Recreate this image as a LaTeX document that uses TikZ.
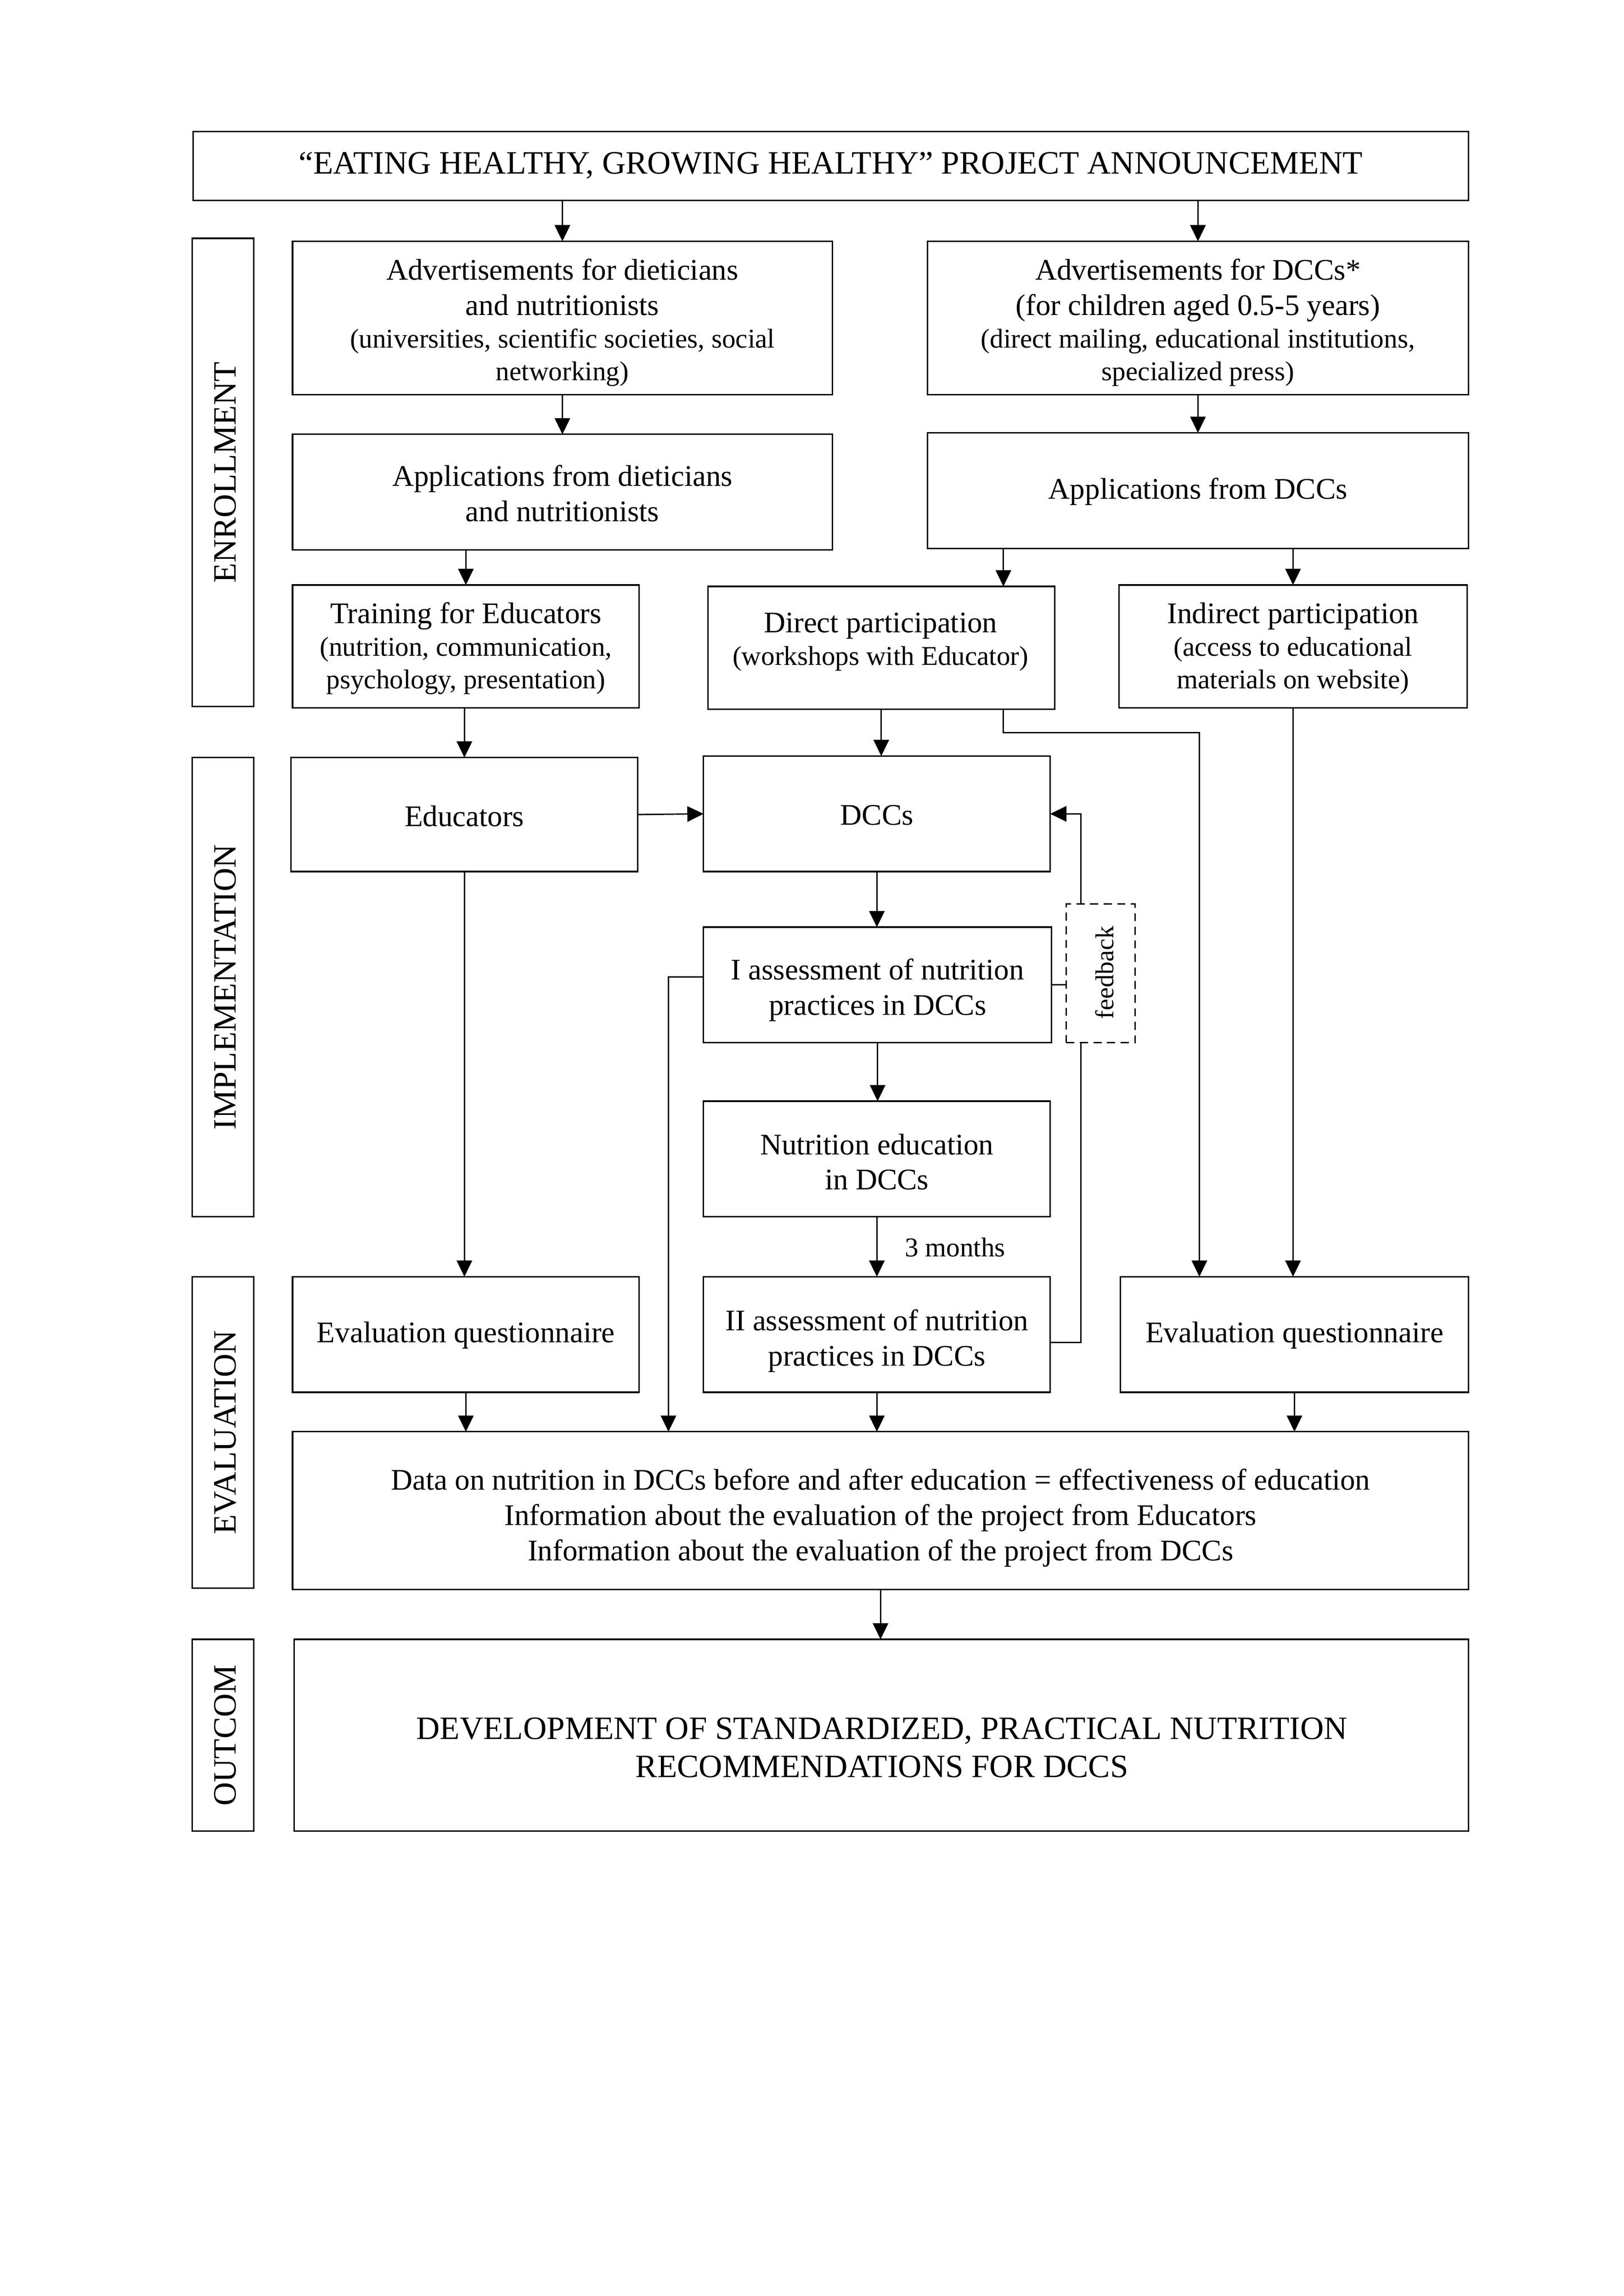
\documentclass[tikz,border=0pt]{standalone}
\usepackage{fontspec}
\setmainfont{Liberation Serif}
\usetikzlibrary{arrows.meta}
\newcommand\sm{\fontsize{10}{12}\selectfont}
% \bx[text shift down, px]{name}{x1}{y1}{x2}{y2}{text}
\newcommand\bx[7][0]{\node[box, minimum width={(#5-#3)*0.18919mm}, minimum height={(#6-#4)*0.18919mm}] (#2) at ({(#3+#5)/2},{(#4+#6)/2}) {};
  \node[txt] (#2-t) at ([yshift={-(#1)*0.18919mm}]#2.center) {#7};}
\tikzset{
  box/.style={draw, line width=0.55pt, inner sep=0pt, outer sep=0pt},
  txt/.style={inner sep=0pt, align=center, font=\fontsize{11}{13}\selectfont},
  arr/.style={line width=0.5pt, -{Triangle[length=2.1mm,width=2.0mm]}},
  ln/.style={line width=0.5pt},
  lbl/.style={rotate=90, inner sep=0pt, font=\fontsize{12}{14}\selectfont},
  fbbox/.style={draw, densely dashed, line width=0.5pt, inner sep=0pt, outer sep=0pt}
}
\begin{document}
\begin{tikzpicture}[x=0.18919mm, y=-0.18919mm]
\useasboundingbox (0,0) rectangle (1110,1570);
% named helper coordinates
\coordinate (xd) at (686,0);
\coordinate (xr) at (820,0);
\coordinate (xf) at (739,0);
\coordinate (xl) at (457,0);
\coordinate (yd) at (0,501);
\coordinate (yl) at (0,668);
\coordinate (yf) at (0,918);

% title
\bx[-0.5]{top}{132}{90}{1004}{137}{\fontsize{12}{14}\selectfont “EATING HEALTHY, GROWING HEALTHY” PROJECT ANNOUNCEMENT}

% side labels
\node[box, minimum width={42*0.18919mm}, minimum height={320*0.18919mm}] (enr) at (152.5,323) {};
\node[lbl] (enrt) at ([xshift=0.3mm]enr.center) {ENROLLMENT};
\node[box, minimum width={42*0.18919mm}, minimum height={314*0.18919mm}] (impl) at (152.5,675) {};
\node[lbl] (implt) at ([xshift=0.3mm]impl.center) {IMPLEMENTATION};
\node[box, minimum width={42*0.18919mm}, minimum height={213*0.18919mm}] (eval) at (152.5,979.5) {};
\node[lbl] (evalt) at ([xshift=0.3mm]eval.center) {EVALUATION};
\node[box, minimum width={42*0.18919mm}, minimum height={131*0.18919mm}] (outl) at (152.5,1186.5) {};
\node[lbl] (outlt) at ([xshift=0.3mm]outl.center) {OUTCOM};

% enrollment
\bx[3]{advdiet}{200}{165}{569}{270}{Advertisements for dieticians\\ and nutritionists\\[-1pt] {\sm (universities, scientific societies, social}\\[-1pt] {\sm networking)}}
\bx[3]{advdcc}{634}{165}{1004}{270}{Advertisements for DCCs*\\ (for children aged 0.5-5 years)\\[-1pt] {\sm (direct mailing, educational institutions,}\\[-1pt] {\sm specialized press)}}
\bx[1]{appdiet}{200}{297}{569}{376}{Applications from dieticians\\ and nutritionists}
\bx[0.5]{appdcc}{634}{296}{1004}{375}{Applications from DCCs}
\bx[1.5]{train}{200}{400}{437}{484}{Training for Educators\\[-1pt] {\sm (nutrition, communication,}\\[-1pt] {\sm psychology, presentation)}}
\node[box, minimum width={237*0.18919mm}, minimum height={84*0.18919mm}] (direct) at (602.5,443) {};
\node[txt] (directt) at (602,439) {Direct participation\\[-1pt] {\sm (workshops with Educator)}};
\bx[1.5]{indirect}{765}{400}{1003}{484}{Indirect participation\\[-1pt] {\sm (access to educational}\\[-1pt] {\sm materials on website)}}

% implementation
\bx[1]{educ}{199}{518}{436}{596}{Educators}
\bx[1]{dccs}{481}{517}{718}{596}{DCCs}
\bx[3.5]{iass}{481}{634}{719}{713}{I assessment of nutrition\\ practices in DCCs}
\bx[2]{nutr}{481}{753}{718}{832}{Nutrition education\\ in DCCs}
\node[fbbox, minimum width={47*0.18919mm}, minimum height={95*0.18919mm}] (fb) at (752.5,665.5) {};
\node[lbl, font=\fontsize{9.5}{11}\selectfont] (fbt) at (755,665) {feedback};

% evaluation
\bx[0.5]{evl}{200}{873}{437}{952}{Evaluation questionnaire}
\bx[4.5]{iiass}{481}{873}{718}{952}{II assessment of nutrition\\ practices in DCCs}
\bx[0.5]{evr}{766}{873}{1004}{952}{Evaluation questionnaire}
\bx[5]{data}{200}{979}{1004}{1087}{Data on nutrition in DCCs before and after education = effectiveness of education\\ Information about the evaluation of the project from Educators\\ Information about the evaluation of the project from DCCs}

% outcome
\node[box, minimum width={803*0.18919mm}, minimum height={131*0.18919mm}] (outc) at (602.5,1186.5) {};
\node[txt, font=\fontsize{12}{14}\selectfont] (outct) at (603,1195) {DEVELOPMENT OF STANDARDIZED, PRACTICAL NUTRITION\\ RECOMMENDATIONS FOR DCCS};

% connectors
\draw[arr] (advdiet.north |- top.south) -- (advdiet.north);
\draw[arr] (advdcc.north |- top.south) -- (advdcc.north);
\draw[arr] (advdiet.south) -- (appdiet.north);
\draw[arr] (advdcc.south) -- (appdcc.north);
\draw[arr] (train.north |- appdiet.south) -- (train.north);
\draw[arr] (appdcc.south -| xd) -- (direct.north -| xd);
\draw[arr] (indirect.north |- appdcc.south) -- (indirect.north);
\draw[arr] (educ.north |- train.south) -- (educ.north);
\draw[arr] (direct.south) -- (direct.south |- dccs.north);
\draw[arr] (direct.south -| xd) -- (xd |- yd) -| (evr.north -| xr);
\draw[arr] (indirect.south) -- (indirect.south |- evr.north);
\draw[arr] (educ.east) -- (dccs.west);
\draw[arr] (dccs.south) -- (dccs.south |- iass.north);
\draw[arr] (iass.south) -- (iass.south |- nutr.north);
\draw[arr] (nutr.south) -- (nutr.south |- iiass.north);
\node[inner sep=0pt, font=\sm] (months) at (653,853) {3 months};
\draw[arr] (educ.south) -- (educ.south |- evl.north);
\draw[arr] (evl.south) -- (evl.south |- data.north);
\draw[arr] (iiass.south) -- (iiass.south |- data.north);
\draw[arr] (evr.south) -- (evr.south |- data.north);
\draw[arr] (iass.west |- yl) -| (data.north -| xl);
\draw[arr] (data.south) -- (data.south |- outc.north);
% feedback loop
\draw[ln] (iass.east) -- (iass.east -| fb.west);
\draw[ln] (iiass.east |- yf) -| (fb.south -| xf);
\draw[arr] (fb.north -| xf) |- (dccs.east);
\end{tikzpicture}
\end{document}
